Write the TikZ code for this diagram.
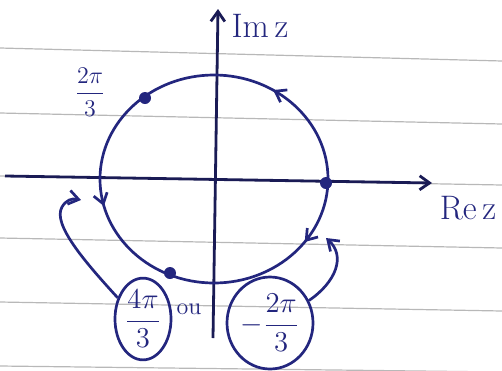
\documentclass[tikz,border=0pt]{standalone}
\usetikzlibrary{arrows.meta,decorations.markings,shapes.geometric}
\definecolor{ink}{HTML}{23267E}
\definecolor{axisink}{HTML}{1A1B55}
\definecolor{paper}{HTML}{B8B8B8}
\tikzset{
  pen/.style={ink, line width=1.35pt},
  axisline/.style={axisink, line width=1.4pt, -{Straight Barb[length=5pt,width=7pt]}},
  ruled/.style={paper, line width=0.6pt},
  tip/.style={-{Straight Barb[length=5pt,width=7pt]}},
  dotmark/.style={circle, fill=ink, inner sep=0pt, minimum size=6pt},
  fraclabel/.style={ink, font=\fontsize{13}{15}\selectfont},
  circled/.style={draw, ellipse, pen, inner sep=0pt, font=\fontsize{14}{16}\selectfont},
  axislabel/.style={ink, font=\fontsize{17}{19}\selectfont}
}
\begin{document}
\begin{tikzpicture}[x=0.5pt,y=-0.5pt]
\useasboundingbox (0,0) rectangle (502,370);
% ruled paper
\draw[ruled] (0,48) -- (502,61);
\draw[ruled] (0,113) -- (502,124);
\draw[ruled] (0,176) -- (502,185);
\draw[ruled] (0,238) -- (502,248);
\draw[ruled] (0,302) -- (502,311);
\draw[ruled] (0,366) -- (502,372);
% axes
\coordinate (xs) at (5,176);
\coordinate (xe) at (432,183);
\coordinate (ys) at (213,338);
\coordinate (ye) at (218,9);
\draw[axisline] (xs) -- (xe);
\draw[axisline] (ys) -- (ye);
\node[axislabel] (imz) at (260,26) {Im\,z};
\node[axislabel] (rez) at (468,208) {Re\,z};
% circle
\draw[pen, decoration={markings,
   mark=at position 0.10 with {\arrow{Straight Barb[length=5pt,width=7pt]}},
   mark=at position 0.46 with {\arrowreversed{Straight Barb[length=5pt,width=7pt]}},
   mark=at position 0.84 with {\arrowreversed{Straight Barb[length=5pt,width=7pt]}}},
   postaction={decorate}]
   (214,179) ellipse [x radius=114, y radius=104];
% points
\node[dotmark] (p23) at (145,98) {};
\node[dotmark] (p0) at (326,183) {};
\node[dotmark] (p43) at (170,273) {};
% labels
\node[fraclabel] (l23) at (90,92) {$\displaystyle\frac{2\pi}{3}$};
\node[circled, minimum width=28pt, minimum height=39pt] (l43) at (143,319) {$\displaystyle\frac{4\pi}{3}$};
\node[ink, font=\fontsize{12}{14}\selectfont] (ou) at (189,309) {ou};
\node[circled, minimum width=43pt, minimum height=46pt] (lm23) at (270,323) {$\displaystyle-\frac{2\pi}{3}$};
% curved arrows
\coordinate (la) at (81,200);
\coordinate (ra) at (326,238);
\draw[pen, tip] (l43.140) .. controls (85,262) and (52,224) .. (62,207) .. controls (66,200) and (72,198) .. (la);
\draw[pen, tip] (lm23.30) .. controls (336,282) and (346,256) .. (ra);
\end{tikzpicture}
\end{document}
